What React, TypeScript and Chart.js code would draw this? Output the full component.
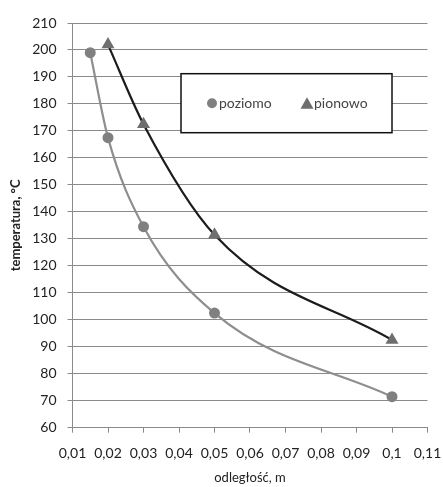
import React, { useEffect, useRef } from 'react';
import { Chart, registerables } from 'chart.js';

Chart.register(...registerables);

const seriesNames = ['poziomo', 'pionowo'];
const poziomoX = [0.015, 0.02, 0.03, 0.05, 0.1];
const poziomoY = [199, 167.5, 134.5, 102.5, 71.5];
const pionowoX = [0.02, 0.03, 0.05, 0.1];
const pionowoY = [202, 172.5, 131.5, 92.5];
const xTickValues = [0.01, 0.02, 0.03, 0.04, 0.05, 0.06, 0.07, 0.08, 0.09, 0.1, 0.11];
const xTickLabels = ['0,01', '0,02', '0,03', '0,04', '0,05', '0,06', '0,07', '0,08', '0,09', '0,1', '0,11'];
const yMin = 60;
const yMax = 210;
const yStep = 10;
const xTitle = 'odległość, m';
const yTitle = 'temperatura, °C';

const FONT = 'Lato, "Open Sans", sans-serif';

const legendBoxPlugin = {
  id: 'legendBox',
  afterDatasetsDraw(chart: any) {
    const { ctx, chartArea } = chart;
    const x0 = chartArea.left + 108.5;
    const y0 = chartArea.top + 50.7;
    const w = 211;
    const h = 59;
    ctx.save();
    ctx.fillStyle = '#ffffff';
    ctx.fillRect(x0, y0, w, h);
    ctx.strokeStyle = '#111111';
    ctx.lineWidth = 1.5;
    ctx.strokeRect(x0, y0, w, h);
    const cy = y0 + h / 2;
    ctx.font = '14px ' + FONT;
    ctx.textBaseline = 'middle';
    ctx.textAlign = 'left';
    const ds0 = chart.data.datasets[0];
    ctx.fillStyle = ds0.pointBackgroundColor;
    ctx.beginPath();
    ctx.arc(x0 + 31, cy, 5, 0, Math.PI * 2);
    ctx.fill();
    ctx.fillStyle = '#444444';
    ctx.fillText(ds0.label, x0 + 38, cy);
    const ds1 = chart.data.datasets[1];
    const tx = x0 + 126;
    ctx.fillStyle = ds1.pointBackgroundColor;
    ctx.beginPath();
    ctx.moveTo(tx, cy - 6);
    ctx.lineTo(tx + 6.5, cy + 5.5);
    ctx.lineTo(tx - 6.5, cy + 5.5);
    ctx.closePath();
    ctx.fill();
    ctx.fillStyle = '#444444';
    ctx.fillText(ds1.label, tx + 7, cy);
    ctx.restore();
  },
};

export default function App() {
  const ref = useRef<HTMLCanvasElement | null>(null);

  useEffect(() => {
    document.body.style.margin = '0';
    const canvas = ref.current;
    if (!canvas) return;
    const chart = new Chart(canvas, {
      type: 'scatter',
      data: {
        datasets: [
          {
            label: seriesNames[0],
            data: poziomoX.map((x, i) => ({ x, y: poziomoY[i] })),
            showLine: true,
            cubicInterpolationMode: 'monotone',
            borderColor: '#8e8e8e',
            borderWidth: 2.2,
            pointStyle: 'circle',
            pointRadius: 5.5,
            pointBackgroundColor: '#808080',
            pointBorderColor: '#808080',
            pointBorderWidth: 0,
          },
          {
            label: seriesNames[1],
            data: pionowoX.map((x, i) => ({ x, y: pionowoY[i] })),
            showLine: true,
            cubicInterpolationMode: 'monotone',
            borderColor: '#1c1c1c',
            borderWidth: 2.2,
            pointStyle: 'triangle',
            pointRadius: 7.5,
            pointBackgroundColor: '#6e6e6e',
            pointBorderColor: '#6e6e6e',
            pointBorderWidth: 0,
          },
        ] as any,
      },
      options: {
        animation: false,
        responsive: false,
        layout: { padding: { top: 23, right: 15.5, left: 0, bottom: 0 } },
        plugins: {
          legend: { display: false },
          tooltip: { enabled: false },
        },
        scales: {
          x: {
            type: 'linear',
            min: xTickValues[0],
            max: xTickValues[xTickValues.length - 1],
            afterBuildTicks: (scale: any) => {
              scale.ticks = xTickValues.map((v) => ({ value: v }));
            },
            afterFit: (scale: any) => {
              scale.height = 59.3;
              scale.paddingLeft = 0;
              scale.paddingRight = 0;
            },
            grid: {
              drawOnChartArea: false,
              drawTicks: true,
              tickLength: 5,
              color: '#8a8a8a',
            },
            border: { color: '#8a8a8a' },
            ticks: {
              color: '#222222',
              font: { family: FONT, size: 14 },
              padding: 12,
              maxRotation: 0,
              autoSkip: false,
              callback: (_v: any, i: number) => xTickLabels[i],
            },
            title: {
              display: true,
              text: xTitle,
              color: '#222222',
              font: { family: FONT, size: 13 },
              padding: { top: 0, bottom: 1 },
            },
          },
          y: {
            type: 'linear',
            min: yMin,
            max: yMax,
            afterFit: (scale: any) => {
              scale.width = 72.5;
              scale.paddingTop = 0;
              scale.paddingBottom = 0;
            },
            grid: {
              color: '#8a8a8a',
              lineWidth: 1,
              drawTicks: true,
              tickLength: 5,
            },
            border: { color: '#8a8a8a' },
            ticks: {
              stepSize: yStep,
              color: '#222222',
              font: { family: FONT, size: 14 },
              padding: 11,
            },
            title: {
              display: true,
              text: yTitle,
              color: '#222222',
              font: { family: FONT, size: 13, weight: 'bold' },
              padding: { top: 8, bottom: 0 },
            },
          },
        },
      } as any,
      plugins: [legendBoxPlugin],
    });
    return () => chart.destroy();
  }, []);

  return (
    <div style={{ width: 443, height: 487, background: '#ffffff' }}>
      <canvas ref={ref} width={443} height={487} />
    </div>
  );
}
